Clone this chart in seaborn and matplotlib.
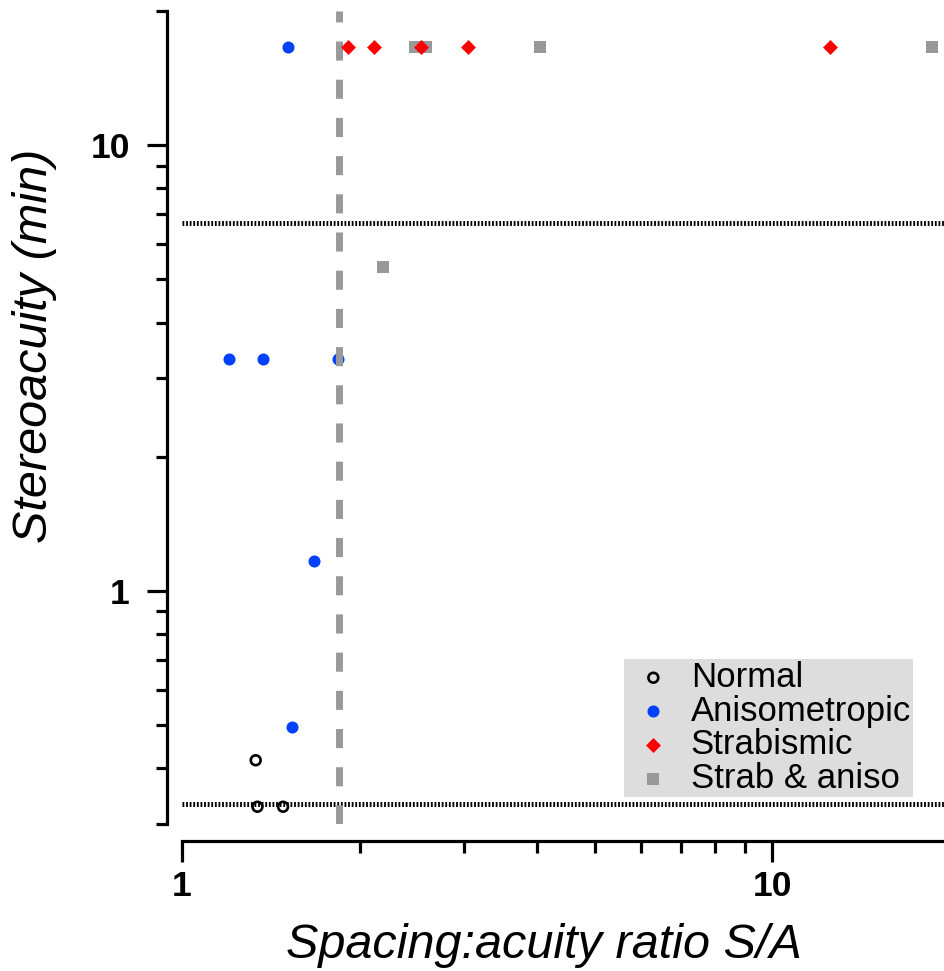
import numpy as np
import pandas as pd
import matplotlib
matplotlib.use("Agg")
import matplotlib.pyplot as plt
import seaborn as sns
from matplotlib.ticker import LogLocator, FuncFormatter, NullFormatter

# ---------------- data ----------------
groups = ["Normal", "Anisometropic", "Strabismic", "Strab & aniso"]
normal_x = [1.333, 1.342, 1.483]
normal_y = [0.417, 0.328, 0.328]
aniso_x = [1.514, 1.203, 1.373, 1.836, 1.674, 1.534]
aniso_y = [16.6, 3.31, 3.31, 3.31, 1.168, 0.496]
strab_x = [1.914, 2.116, 2.542, 3.053, 12.54]
strab_y = [16.6, 16.6, 16.6, 16.6, 16.6]
both_x = [2.483, 2.593, 4.045, 18.66, 2.19]
both_y = [16.6, 16.6, 16.6, 16.6, 5.33]
hline_vals = [0.333, 6.7]
vline_val = 1.845

df = pd.concat([
    pd.DataFrame({"ratio": normal_x, "stereo": normal_y, "group": groups[0]}),
    pd.DataFrame({"ratio": aniso_x, "stereo": aniso_y, "group": groups[1]}),
    pd.DataFrame({"ratio": strab_x, "stereo": strab_y, "group": groups[2]}),
    pd.DataFrame({"ratio": both_x, "stereo": both_y, "group": groups[3]}),
], ignore_index=True)

# ---------------- style ----------------
sns.set_theme(style="ticks")
plt.rcParams["font.family"] = ["Liberation Sans", "DejaVu Sans"]
plt.rcParams.update({
    "axes.linewidth": 2.3,
    "axes.edgecolor": "black",
    "text.color": "black",
    "axes.labelcolor": "black",
    "xtick.color": "black",
    "ytick.color": "black",
})

fig = plt.figure(figsize=(9.45, 9.71), dpi=100)
ax = fig.add_axes([182 / 945, 1 - 824 / 971, 1 - 182 / 945, (824 - 11) / 971])
ax.set_xscale("log")
ax.set_yscale("log")
ax.set_xlim(1, 19.6)
ax.set_ylim(0.3, 20)

styles = {
    "Normal": dict(marker="o", s=50, facecolors="none", edgecolor="black", linewidth=1.9, zorder=3),
    "Anisometropic": dict(marker="o", s=75, color="#0040ff", edgecolor="#0040ff", linewidth=0, zorder=2),
    "Strabismic": dict(marker="D", s=58, color="#ff0000", edgecolor="#ff0000", linewidth=0, zorder=5),
    "Strab & aniso": dict(marker="s", s=72, color="#999999", edgecolor="#999999", linewidth=0, zorder=1),
}
for g in groups:
    sub = df[df["group"] == g]
    sns.scatterplot(data=sub, x="ratio", y="stereo", ax=ax, label=g, **styles[g])

for v in hline_vals:
    ax.axhline(v, color="black", lw=3.6, linestyle=(0, (0.36, 0.36)), zorder=4)
ax.axvline(vline_val, color="#999999", lw=5, linestyle=(0, (2.75, 2.75)), zorder=4)

# ---------------- axes ----------------
sns.despine(ax=ax, offset={"left": 11, "bottom": 12})
ax.xaxis.set_major_locator(LogLocator(base=10, numticks=10))
ax.xaxis.set_minor_locator(LogLocator(base=10, subs=np.arange(2, 10), numticks=20))
ax.yaxis.set_major_locator(LogLocator(base=10, numticks=10))
ax.yaxis.set_minor_locator(LogLocator(base=10, subs=np.arange(2, 10), numticks=20))
fmt = FuncFormatter(lambda v, p: f"{v:g}")
ax.xaxis.set_major_formatter(fmt)
ax.yaxis.set_major_formatter(fmt)
ax.xaxis.set_minor_formatter(NullFormatter())
ax.yaxis.set_minor_formatter(NullFormatter())
ax.tick_params(axis="x", which="major", length=15, width=2.3, direction="out", pad=6, labelsize=25.5, colors="black")
ax.tick_params(axis="x", which="minor", length=8.5, width=2.3, direction="out", colors="black")
ax.tick_params(axis="y", which="major", length=14.5, width=2.3, direction="out", pad=12, labelsize=25.5, colors="black")
ax.tick_params(axis="y", which="minor", length=8, width=2.3, direction="out", colors="black")
for lab in ax.get_xticklabels() + ax.get_yticklabels():
    lab.set_fontweight("bold")

ax.set_xlabel("")
ax.set_ylabel("")
fig.text(544 / 945, 1 - 945 / 971, "Spacing:acuity ratio S/A", fontsize=35, style="italic",
         ha="center", va="center", color="black")
fig.text(35 / 945, 1 - 346 / 971, "Stereoacuity (min)", fontsize=35, style="italic",
         ha="center", va="center", rotation=90, color="black")

leg = ax.legend(loc="lower right", bbox_to_anchor=(913 / 945, 1 - 797 / 971),
                bbox_transform=fig.transFigure, fontsize=25, frameon=True,
                fancybox=False, framealpha=1, facecolor="#dddddd", edgecolor="none",
                labelspacing=0.02, handletextpad=0.3, handlelength=1.55, borderpad=0.06,
                borderaxespad=0, markerscale=1.0, labelcolor="black")
leg.set_zorder(6)

fig.savefig("out.png", dpi=100)
